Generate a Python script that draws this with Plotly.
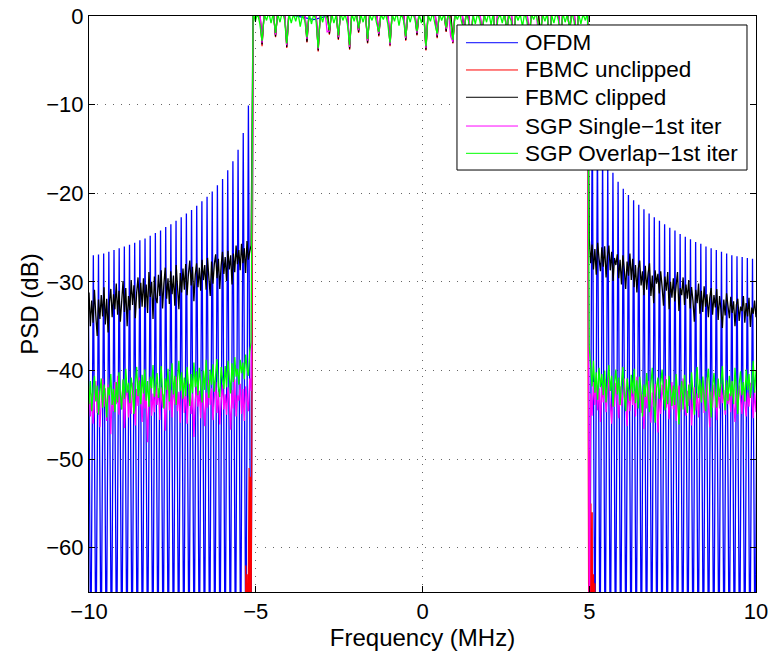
import numpy as np
import plotly.graph_objects as go

# ---------------- data ----------------
# OFDM: peak level of each spectral lobe, going outward from the band edge
ofdm_left_peaks = [-10.1, -13.2, -15.1, -16.4, -17.4, -18.4, -19.1, -19.8, -20.4, -20.9,
                   -21.4, -21.9, -22.3, -22.7, -23.1, -23.5, -23.8, -24.2, -24.5, -24.8,
                   -25.1, -25.3, -25.6, -25.8, -26.0, -26.2, -26.4, -26.6, -26.8, -26.9,
                   -27.0, -27.1]
ofdm_right_peaks = [-10.0, -13.2, -15.2, -16.6, -17.7, -18.7, -19.5, -20.2, -20.8, -21.3,
                    -21.8, -22.3, -22.7, -23.1, -23.5, -23.9, -24.2, -24.6, -24.9, -25.2,
                    -25.5, -25.7, -26.0, -26.2, -26.4, -26.6, -26.8, -27.0, -27.1, -27.2,
                    -27.3, -27.4, -27.5]
ofdm_null = -75.0
ofdm_lobe_spacing = 0.155          # MHz
ofdm_left_first_peak = -5.22        # MHz
ofdm_right_first_peak = 5.09        # MHz
ofdm_inband = [0.4, 0.3, -0.4, 0.5, 0.3, 0.4, 0.5, 0.3, 0.4, 0.5, 0.4, 0.3]

# band edges (MHz)
band_lo, band_hi = -5.08, 4.95
left_lo, left_hi = -10.0, -5.14
right_lo, right_hi = 5.0, 10.0

# FBMC unclipped (red): only visible right at the band edges
red_left_f = [-10.0, -5.32, -5.30, -5.28, -5.26, -5.24, -5.22, -5.20, -5.18, -5.16, -5.14, -5.12]
red_left_v = [-120, -90, -62, -85, -63, -80, -62, -51, -78, -52, -70, -51]
red_right_f = [4.97, 4.99, 5.01, 5.03, 5.05, 5.07, 5.09, 5.11, 5.13, 5.15, 5.17, 5.19, 10.0]
red_right_v = [-48.6, -80, -49, -75, -55, -82, -56, -85, -63, -90, -64, -100, -120]

# in-band PSD (all on the same in-band frequency grid)
green_inband = [0.4, -0.6, 0.3, -0.9, -2.8, 0.2, -0.5, 0.4, -0.8, 0.3,
                -1.9, 0.2, -0.7, 0.5, -0.4, -3.1, 0.3, -0.8, 0.2, -0.6,
                0.4, -1.2, 0.1, -0.5, -2.4, 0.3, -0.9, 0.2, -0.4, -3.6,
                0.2, -0.7, 0.4, -0.3, -1.6, 0.3, -0.8, 0.1, -2.2, 0.4,
                -0.5, 0.2, -0.9, -3.3, 0.3, -0.6, 0.4, -1.4, 0.2, -0.7,
                0.3, -2.6, 0.1, -0.5, 0.4, -0.8, -1.8, 0.2, -0.4, 0.3,
                -0.9, -3.0, 0.2, -0.6, 0.4, -1.1, 0.3, -0.5, -2.3, 0.2,
                -0.7, 0.4, -0.3, -1.7, 0.2, -0.8, 0.3, -3.4, 0.1, -0.6,
                0.4, -0.9, -2.0, 0.3, -0.5, 0.2, -1.3, 0.4, -0.7, -2.7,
                0.2, -0.4, 0.3, -0.8, -1.5, 0.4, -0.6, -3.2, 0.2, -0.9,
                0.3, -0.5, -2.1, 0.2, -0.7, 0.4, -1.0, 0.3, -2.9, -0.4,
                0.2, -0.8, 0.4, -1.6, 0.1, -0.6, -3.5, 0.3, -0.5, 0.2,
                -1.2, 0.4, -0.7, -2.5, 0.2, -0.4, 0.3, -0.9, -1.9, 0.2,
                -0.6, 0.3, -3.0, 0.1, -0.8, 0.4, -0.5, -2.2, 0.3, -0.7,
                0.2, -1.4, 0.4, -0.6, -2.8, 0.3, -0.9, 0.2, -0.5, 0.4]
black_inband = [0.6, 0.6, 0.6, 0.6, -3.2, 0.6, 0.6, 0.6, 0.6, 0.6,
                -2.3, 0.6, 0.6, 0.6, 0.6, -3.5, 0.6, 0.6, 0.6, 0.6,
                0.6, 0.6, 0.6, 0.6, -2.9, 0.6, 0.6, 0.6, 0.6, -3.9,
                0.6, 0.6, 0.6, 0.6, -2.0, 0.6, 0.6, 0.6, -2.6, 0.6,
                0.6, 0.6, 0.6, -3.7, 0.6, 0.6, 0.6, -1.8, 0.6, 0.6,
                0.6, -3.0, 0.6, 0.6, 0.6, 0.6, -2.2, 0.6, 0.6, 0.6,
                0.6, -3.3, 0.6, 0.6, 0.6, 0.6, 0.6, 0.6, -2.7, 0.6,
                0.6, 0.6, 0.6, -2.1, 0.6, 0.6, 0.6, -3.8, 0.6, 0.6,
                0.6, 0.6, -2.4, 0.6, 0.6, 0.6, -1.7, 0.6, 0.6, -3.0,
                0.6, 0.6, 0.6, 0.6, -1.9, 0.6, 0.6, -3.6, 0.6, 0.6,
                0.6, 0.6, -2.5, 0.6, 0.6, 0.6, 0.6, 0.6, -3.3, 0.6,
                0.6, 0.6, 0.6, -2.0, 0.6, 0.6, -3.9, 0.6, 0.6, 0.6,
                0.6, 0.6, 0.6, -2.9, 0.6, 0.6, 0.6, 0.6, -2.3, 0.6,
                0.6, 0.6, -3.4, 0.6, 0.6, 0.6, 0.6, -2.6, 0.6, 0.6,
                0.6, -1.8, 0.6, 0.6, -3.2, 0.6, 0.6, 0.6, 0.6, 0.6]
mag_inband = [0.6, 0.6, 0.6, 0.6, -3.0, 0.6, 0.6, 0.6, 0.6, 0.6,
              -2.1, 0.6, 0.6, 0.6, 0.6, -3.3, 0.6, 0.6, 0.6, 0.6,
              0.6, 0.6, 0.6, 0.6, -2.6, 0.6, 0.6, 0.6, 0.6, -3.7,
              0.6, 0.6, 0.6, -1.8, -1.7, 0.6, 0.6, 0.6, -2.4, 0.6,
              0.6, 0.6, 0.6, -3.5, 0.6, 0.6, 0.6, -1.6, 0.6, 0.6,
              0.6, -2.8, 0.6, 0.6, 0.6, 0.6, -2.0, 0.6, 0.6, 0.6,
              0.6, -3.2, 0.6, 0.6, 0.6, 0.6, 0.6, 0.6, -2.5, 0.6,
              0.6, 0.6, 0.6, -1.9, 0.6, 0.6, 0.6, -3.6, 0.6, 0.6,
              0.6, 0.6, -2.2, 0.6, 0.6, 0.6, -1.5, 0.6, -2.3, -2.9,
              0.6, 0.6, 0.6, 0.6, -1.7, 0.6, 0.6, -3.4, 0.6, 0.6,
              0.6, 0.6, -2.3, 0.6, 0.6, 0.6, 0.6, 0.6, -3.1, 0.6,
              0.6, 0.6, 0.6, -1.8, 0.6, 0.6, -3.7, 0.6, 0.6, 0.6,
              0.6, 0.6, 0.6, -2.7, 0.6, 0.6, 0.6, -1.9, -2.1, 0.6,
              0.6, 0.6, -3.2, 0.6, 0.6, 0.6, 0.6, -2.4, 0.6, 0.6,
              0.6, -1.6, 0.6, 0.6, -3.0, 0.6, 0.6, 0.6, 0.6, 0.6]
red_inband = [0.6, 0.6, 0.6, 0.6, -3.4, 0.6, 0.6, 0.6, 0.6, 0.6,
              -2.4, 0.6, 0.6, 0.6, 0.6, -3.6, 0.6, 0.6, 0.6, 0.6,
              0.6, 0.6, 0.6, 0.6, -3.0, 0.6, 0.6, 0.6, 0.6, -4.0,
              0.6, 0.6, 0.6, 0.6, -2.1, 0.6, 0.6, 0.6, -2.7, 0.6,
              0.6, 0.6, 0.6, -3.8, 0.6, 0.6, 0.6, -1.9, 0.6, 0.6,
              0.6, -3.1, 0.6, 0.6, 0.6, 0.6, -2.3, 0.6, 0.6, 0.6,
              0.6, -3.4, 0.6, 0.6, 0.6, 0.6, 0.6, 0.6, -2.8, 0.6,
              0.6, 0.6, 0.6, -2.2, 0.6, 0.6, 0.6, -3.9, 0.6, 0.6,
              0.6, 0.6, -2.5, 0.6, 0.6, 0.6, -1.8, 0.6, 0.6, -3.1,
              0.6, 0.6, 0.6, 0.6, -2.0, 0.6, 0.6, -3.7, 0.6, 0.6,
              0.6, 0.6, -2.6, 0.6, 0.6, 0.6, 0.6, 0.6, -3.4, 0.6,
              0.6, 0.6, 0.6, -2.1, 0.6, 0.6, -4.0, 0.6, 0.6, 0.6,
              0.6, 0.6, 0.6, -3.0, 0.6, 0.6, 0.6, 0.6, -2.4, 0.6,
              0.6, 0.6, -3.5, 0.6, 0.6, 0.6, 0.6, -2.7, 0.6, 0.6,
              0.6, -1.9, 0.6, 0.6, -3.3, 0.6, 0.6, 0.6, 0.6, 0.6]

# FBMC clipped (black), out of band
black_left = [-31.2, -35.0, -32.1, -34.6, -30.9, -33.8, -36.1, -32.0, -34.2, -31.5,
              -33.9, -30.6, -34.8, -31.9, -35.7, -32.3, -30.8, -34.0, -31.4, -33.1,
              -30.2, -33.7, -31.0, -34.5, -32.2, -29.9, -33.4, -30.7, -35.0, -31.6,
              -33.2, -29.8, -32.6, -30.4, -34.1, -31.2, -29.5, -33.0, -30.1, -32.8,
              -29.6, -32.9, -30.3, -33.5, -28.9, -31.7, -30.0, -34.2, -29.4, -31.8,
              -32.4, -29.2, -31.6, -28.7, -33.0, -30.2, -28.4, -31.9, -29.6, -32.5,
              -28.8, -31.4, -29.3, -32.7, -28.1, -30.6, -33.1, -29.0, -31.2, -28.5,
              -30.9, -28.0, -31.5, -29.1, -27.6, -30.4, -28.3, -32.2, -29.2, -27.9,
              -30.6, -28.4, -31.0, -27.5, -29.8, -28.1, -30.9, -27.3, -29.5, -31.6,
              -27.7, -30.2, -28.0, -26.9, -29.6, -27.4, -30.8, -28.2, -26.6, -29.1,
              -27.2, -29.9, -26.5, -28.6, -27.0, -30.3, -26.8, -28.9, -25.9, -28.0,
              -26.4, -28.7, -25.7, -27.9, -26.2, -29.0, -25.4, -27.5, -26.6, -25.9]
black_right = [-25.1, -27.9, -25.8, -28.6, -26.3, -29.2, -25.6, -27.4, -28.8, -26.1,
               -28.3, -26.0, -29.5, -27.1, -25.9, -28.7, -26.6, -29.9, -27.3, -28.1,
               -26.9, -29.6, -27.5, -30.3, -27.0, -28.6, -30.8, -27.7, -29.3, -26.8,
               -29.8, -27.4, -30.6, -28.1, -31.2, -28.5, -27.6, -30.4, -28.8, -31.5,
               -28.2, -30.9, -29.0, -27.9, -31.6, -29.3, -32.4, -28.7, -30.2, -29.1,
               -31.3, -28.8, -30.6, -32.7, -29.4, -31.0, -28.9, -33.1, -30.0, -31.8,
               -29.6, -32.2, -30.4, -28.9, -33.3, -30.7, -31.5, -29.5, -32.6, -30.3,
               -31.9, -29.8, -33.0, -30.6, -32.1, -34.5, -30.9, -32.4, -30.2, -33.6,
               -31.0, -33.4, -30.5, -32.8, -31.4, -34.0, -31.8, -30.7, -33.7, -31.5,
               -32.9, -30.8, -34.3, -31.6, -33.1, -35.2, -32.0, -33.8, -31.3, -32.7,
               -34.1, -31.7, -33.5, -32.2, -35.0, -32.6, -31.9, -34.4, -32.8, -33.3,
               -31.6, -34.6, -32.4, -33.9, -31.8, -35.1, -32.9, -33.6, -32.1, -34.0]

# SGP Single - 1st iter (magenta), out of band
mag_left = [-41.8, -45.2, -42.6, -46.0, -43.1, -41.2, -44.8, -42.3, -46.4, -43.5,
            -40.9, -44.1, -42.0, -45.7, -41.6, -43.9, -47.2, -42.4, -44.6, -41.3,
            -43.8, -40.6, -45.0, -42.2, -44.4, -41.1, -46.5, -43.0, -41.8, -45.3,
            -42.5, -44.9, -41.4, -43.6, -46.2, -42.1, -44.0, -40.8, -43.3, -45.8,
            -41.7, -44.3, -42.8, -48.1, -43.2, -41.0, -45.1, -42.6, -44.7, -41.5,
            -43.9, -42.0, -45.6, -41.9, -44.2, -42.7, -46.8, -43.4, -41.2, -44.5,
            -42.2, -45.3, -41.6, -43.8, -40.7, -44.6, -42.4, -45.9, -43.0, -41.4,
            -44.8, -42.1, -46.0, -43.2, -41.5, -44.9, -42.6, -47.5, -43.3, -41.8,
            -44.1, -42.3, -45.4, -41.7, -43.7, -46.3, -42.5, -44.2, -41.1, -43.9,
            -42.0, -45.6, -43.1, -41.3, -44.8, -42.4, -46.1, -43.5, -41.6, -44.4,
            -42.7, -45.0, -41.9, -43.6, -46.7, -42.2, -44.3, -41.0, -45.2, -42.8,
            -43.4, -41.5, -44.9, -42.1, -45.7, -41.8, -43.2, -44.6, -40.9, -42.3]
mag_right = [-70.0, -42.6, -45.1, -41.3, -43.9, -40.8, -44.5, -42.0, -45.8, -41.7,
             -43.6, -41.0, -44.7, -42.4, -40.5, -43.8, -46.0, -42.2, -44.1, -41.4,
             -43.2, -45.4, -41.8, -44.0, -42.6, -40.9, -43.5, -46.3, -42.1, -44.6,
             -41.6, -43.9, -42.3, -45.2, -40.7, -43.4, -41.9, -44.8, -42.7, -46.6,
             -42.0, -44.3, -41.2, -43.7, -45.9, -42.5, -44.1, -41.5, -43.0, -47.0,
             -42.8, -44.9, -41.6, -43.3, -40.6, -44.2, -42.4, -45.5, -43.1, -41.3,
             -44.4, -42.1, -45.7, -43.0, -41.7, -44.6, -42.2, -40.9, -43.8, -45.1,
             -42.3, -44.0, -41.4, -46.2, -43.3, -41.9, -44.5, -42.6, -45.3, -41.8,
             -43.5, -41.1, -44.8, -42.7, -40.8, -43.9, -46.4, -42.4, -44.2, -41.6,
             -43.1, -45.6, -42.0, -44.3, -41.5, -43.7, -42.2, -45.0, -41.3, -43.8,
             -42.6, -44.7, -41.2, -43.4, -45.8, -42.1, -44.0, -41.7, -43.3, -44.9,
             -41.9, -43.6, -45.2, -42.5, -44.1, -41.4, -43.2, -45.4, -42.3, -44.7]

# SGP Overlap - 1st iter (green), out of band
green_left = [-43.8, -41.2, -44.6, -42.0, -40.6, -43.5, -41.7, -45.0, -42.4, -40.9,
              -44.2, -41.6, -43.0, -45.3, -41.9, -42.8, -40.4, -43.9, -42.1, -44.7,
              -41.3, -43.6, -40.2, -42.7, -44.4, -41.0, -43.2, -39.8, -42.5, -41.4,
              -43.7, -40.8, -42.3, -44.9, -41.5, -39.6, -42.9, -41.1, -43.8, -40.5,
              -42.6, -39.9, -43.4, -41.2, -44.1, -40.7, -42.0, -39.4, -43.0, -41.6,
              -40.3, -43.1, -41.8, -39.5, -42.6, -44.3, -40.9, -42.2, -39.8, -43.5,
              -41.4, -39.2, -42.7, -40.6, -43.9, -41.0, -38.9, -42.3, -40.2, -43.2,
              -40.8, -42.9, -39.6, -41.7, -44.0, -40.4, -42.5, -39.1, -41.9, -40.1,
              -42.8, -39.7, -41.3, -43.6, -40.0, -42.2, -38.8, -41.5, -43.1, -39.9,
              -41.6, -39.3, -42.4, -40.5, -38.7, -41.8, -43.0, -39.6, -40.9, -42.1,
              -39.5, -41.9, -38.9, -40.8, -42.6, -39.2, -41.3, -38.5, -40.7, -39.8,
              -41.6, -38.8, -40.3, -39.1, -41.0, -38.2, -39.7, -40.6, -37.9, -36.8]
green_right = [-37.3, -39.5, -41.8, -38.9, -42.5, -40.2, -43.3, -39.7, -41.9, -40.4,
               -42.8, -40.0, -43.6, -41.2, -39.4, -42.3, -40.6, -44.1, -41.5, -39.9,
               -42.7, -40.8, -43.9, -41.3, -39.6, -42.9, -44.6, -40.9, -42.1, -43.4,
               -40.5, -42.6, -39.8, -43.7, -41.1, -44.3, -40.7, -42.4, -45.2, -41.6,
               -43.0, -40.3, -42.8, -44.7, -41.5, -39.7, -43.5, -45.9, -42.0, -40.8,
               -43.2, -41.4, -39.9, -42.6, -44.5, -41.0, -43.8, -40.6, -42.3, -44.0,
               -41.7, -43.9, -40.4, -42.8, -46.1, -43.0, -41.2, -44.4, -40.5, -42.7,
               -44.8, -41.6, -43.3, -40.2, -42.5, -45.0, -41.8, -39.6, -43.1, -41.0,
               -43.6, -40.7, -42.9, -44.6, -41.3, -39.8, -42.4, -45.3, -41.9, -40.3,
               -42.6, -44.2, -40.9, -43.0, -41.4, -39.5, -42.7, -44.5, -41.1, -43.4,
               -40.6, -42.9, -41.2, -43.8, -39.7, -42.0, -44.9, -41.5, -40.1, -42.8,
               -41.3, -43.5, -39.9, -42.2, -40.4, -43.1, -41.6, -38.9, -42.5, -40.0]

series_names = ["OFDM", "FBMC unclipped", "FBMC clipped",
                "SGP Single\u22121st iter", "SGP Overlap\u22121st iter"]
series_colors = ["#0000ff", "#ff0000", "#000000", "#ff00ff", "#00ff00"]
x_ticks = [-10, -5, 0, 5, 10]
y_ticks = [0, -10, -20, -30, -40, -50, -60]

# ---------------- build traces ----------------
def seg(lo, hi, vals):
    return list(np.linspace(lo, hi, len(vals)))


def ofdm_side(first_peak, peaks, direction):
    xs, ys = [], []
    for k, p in enumerate(peaks):
        c = first_peak + direction * k * ofdm_lobe_spacing
        xs += [c - direction * ofdm_lobe_spacing / 2, c]
        ys += [ofdm_null, p]
    return xs, ys

lx, ly = ofdm_side(ofdm_left_first_peak, ofdm_left_peaks, -1)
rx, ry = ofdm_side(ofdm_right_first_peak, ofdm_right_peaks, +1)
lx, ly = lx[::-1], ly[::-1]
ofdm_x = lx + seg(band_lo, band_hi, ofdm_inband) + rx
ofdm_y = ly + ofdm_inband + ry

red_x = red_left_f + seg(band_lo, band_hi, red_inband) + red_right_f
red_y = red_left_v + red_inband + red_right_v


def three(left, inband, right):
    x = seg(left_lo, left_hi, left) + seg(band_lo, band_hi, inband) + seg(right_lo, right_hi, right)
    return x, left + inband + right

blk_x, blk_y = three(black_left, black_inband, black_right)
mag_x, mag_y = three(mag_left, mag_inband, mag_right)
grn_x, grn_y = three(green_left, green_inband, green_right)

fig = go.Figure()
xy = [(ofdm_x, ofdm_y), (red_x, red_y), (blk_x, blk_y), (mag_x, mag_y), (grn_x, grn_y)]
widths = [1.3, 1.2, 1.3, 1.3, 1.3]
for name, (x, y), c, w in zip(series_names, xy, series_colors, widths):
    fig.add_trace(go.Scatter(x=x, y=y, mode="lines", name=name, showlegend=False,
                             line=dict(color=c, width=w, simplify=False)))

font_family = "Liberation Sans, Arial, Helvetica, sans-serif"
axis_common = dict(
    showline=True, linecolor="black", linewidth=1, mirror="ticks",
    ticks="inside", ticklen=6, tickcolor="black", automargin=False,
    ticklabeloverflow="allow",
    showgrid=True, gridcolor="rgba(0,0,0,0.6)", griddash="1px,7px", gridwidth=1,
    zeroline=False, tickfont=dict(size=22, color="black", family=font_family),
)
fig.update_xaxes(range=[-10, 10], tickvals=x_ticks,
                 title=dict(text="Frequency (MHz)", font=dict(size=24, color="black", family=font_family), standoff=4),
                 **axis_common)
fig.update_yaxes(range=[-65, 0], tickvals=y_ticks,
                 title=dict(text="PSD (dB)", font=dict(size=24, color="black", family=font_family), standoff=0),
                 **axis_common)

# ---- legend drawn as a boxed key in paper coordinates ----
leg_x0, leg_x1, leg_y0, leg_y1 = 0.5517, 0.9865, 0.7326, 0.9844
leg_line_x0, leg_line_x1, leg_text_x = 0.5652, 0.6432, 0.6507
leg_rows = [0.9536, 0.9063, 0.8589, 0.8090, 0.7616]
shapes = [dict(type="rect", xref="paper", yref="paper", x0=leg_x0, x1=leg_x1, y0=leg_y0, y1=leg_y1,
               fillcolor="white", line=dict(color="black", width=1), layer="above")]
annotations = []
for name, c, yy in zip(series_names, series_colors, leg_rows):
    shapes.append(dict(type="line", xref="paper", yref="paper", x0=leg_line_x0, x1=leg_line_x1,
                       y0=yy, y1=yy, line=dict(color=c, width=1), layer="above"))
    annotations.append(dict(xref="paper", yref="paper", x=leg_text_x, y=yy, text=name,
                            showarrow=False, xanchor="left", yanchor="middle",
                            font=dict(size=22.5, color="black", family=font_family)))

fig.update_layout(
    width=768, height=651,
    margin=dict(l=89, r=12, t=16, b=59),
    paper_bgcolor="white", plot_bgcolor="white",
    font=dict(family=font_family, color="black"),
    showlegend=False, hovermode=False,
    shapes=shapes, annotations=annotations,
)

# remove the browser's default 8 px page margin so the figure fills the window
fig.write_html("out.html", config={"displayModeBar": False},
               post_script="document.body.style.margin='0';")
